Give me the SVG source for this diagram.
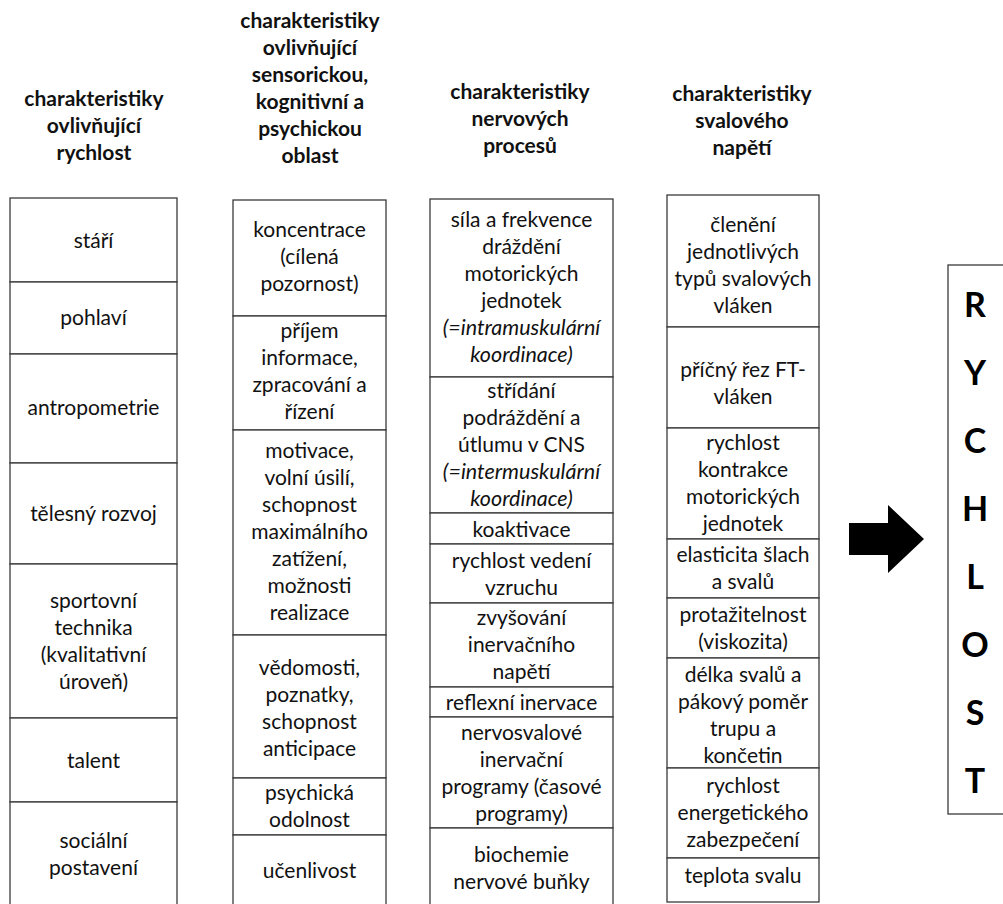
<svg xmlns="http://www.w3.org/2000/svg" width="1003" height="904" viewBox="0 0 1003 904">
  <style>
    .cell { fill: #ffffff; stroke: #3a3a3a; stroke-width: 1.3; }
    .t { font-family: Lato, "Liberation Sans", sans-serif; font-size: 21px; fill: #111111; text-anchor: middle; }
    .h { font-weight: bold; }
    .i { font-style: italic; font-size: 21.5px; }
    .big { font-family: Lato, "Liberation Sans", sans-serif; font-size: 34px; font-weight: bold; fill: #000000; text-anchor: middle; }
  </style>
  <rect width="1003" height="904" fill="#ffffff"/>

  <!-- column headings -->
  <g id="headings">
    <text class="t h"><tspan x="94" y="106">charakteristiky</tspan><tspan x="94" y="133">ovlivňující</tspan><tspan x="94" y="160">rychlost</tspan></text>
    <text class="t h"><tspan x="310" y="28">charakteristiky</tspan><tspan x="310" y="55">ovlivňující</tspan><tspan x="310" y="82">sensorickou,</tspan><tspan x="310" y="109">kognitivní a</tspan><tspan x="310" y="136">psychickou</tspan><tspan x="310" y="163">oblast</tspan></text>
    <text class="t h"><tspan x="520" y="99">charakteristiky</tspan><tspan x="520" y="126">nervových</tspan><tspan x="520" y="153">procesů</tspan></text>
    <text class="t h"><tspan x="742" y="101">charakteristiky</tspan><tspan x="742" y="128">svalového</tspan><tspan x="742" y="155">napětí</tspan></text>
  </g>

  <!-- column 1 -->
  <g id="c1-stari"><rect class="cell" x="10" y="198" width="167" height="84"/><text class="t" x="93.5" y="248">stáří</text></g>
  <g id="c1-pohlavi"><rect class="cell" x="10" y="282" width="167" height="72"/><text class="t" x="93.5" y="325">pohlaví</text></g>
  <g id="c1-antropometrie"><rect class="cell" x="10" y="354" width="167" height="109"/><text class="t" x="93.5" y="415">antropometrie</text></g>
  <g id="c1-rozvoj"><rect class="cell" x="10" y="463" width="167" height="101"/><text class="t" x="93.5" y="521">tělesný rozvoj</text></g>
  <g id="c1-technika"><rect class="cell" x="10" y="564" width="167" height="154"/><text class="t"><tspan x="93.5" y="608">sportovní</tspan><tspan x="93.5" y="635">technika</tspan><tspan x="93.5" y="662">(kvalitativní</tspan><tspan x="93.5" y="689">úroveň)</tspan></text></g>
  <g id="c1-talent"><rect class="cell" x="10" y="718" width="167" height="84"/><text class="t" x="93.5" y="768">talent</text></g>
  <g id="c1-postaveni"><rect class="cell" x="10" y="802" width="167" height="110"/><text class="t"><tspan x="93.5" y="848">sociální</tspan><tspan x="93.5" y="875">postavení</tspan></text></g>

  <!-- column 2 -->
  <g id="c2-koncentrace"><rect class="cell" x="233" y="200" width="153" height="116"/><text class="t"><tspan x="309.5" y="237">koncentrace</tspan><tspan x="309.5" y="264">(cílená</tspan><tspan x="309.5" y="291">pozornost)</tspan></text></g>
  <g id="c2-prijem"><rect class="cell" x="233" y="316" width="153" height="114"/><text class="t"><tspan x="309.5" y="338">příjem</tspan><tspan x="309.5" y="365">informace,</tspan><tspan x="309.5" y="392">zpracování a</tspan><tspan x="309.5" y="419">řízení</tspan></text></g>
  <g id="c2-motivace"><rect class="cell" x="233" y="430" width="153" height="205"/><text class="t"><tspan x="309.5" y="458">motivace,</tspan><tspan x="309.5" y="485">volní úsilí,</tspan><tspan x="309.5" y="512">schopnost</tspan><tspan x="309.5" y="539">maximálního</tspan><tspan x="309.5" y="566">zatížení,</tspan><tspan x="309.5" y="593">možnosti</tspan><tspan x="309.5" y="620">realizace</tspan></text></g>
  <g id="c2-vedomosti"><rect class="cell" x="233" y="635" width="153" height="143"/><text class="t"><tspan x="309.5" y="675">vědomosti,</tspan><tspan x="309.5" y="702">poznatky,</tspan><tspan x="309.5" y="729">schopnost</tspan><tspan x="309.5" y="756">anticipace</tspan></text></g>
  <g id="c2-odolnost"><rect class="cell" x="233" y="778" width="153" height="57"/><text class="t"><tspan x="309.5" y="800">psychická</tspan><tspan x="309.5" y="827">odolnost</tspan></text></g>
  <g id="c2-ucenlivost"><rect class="cell" x="233" y="835" width="153" height="77"/><text class="t" x="309.5" y="878">učenlivost</text></g>

  <!-- column 3 -->
  <g id="c3-sila"><rect class="cell" x="430" y="199" width="183" height="178"/><text class="t"><tspan x="521.5" y="227">síla a frekvence</tspan><tspan x="521.5" y="254">dráždění</tspan><tspan x="521.5" y="281">motorických</tspan><tspan x="521.5" y="308">jednotek</tspan><tspan class="i" x="521.5" y="335">(=intramuskulární</tspan><tspan class="i" x="521.5" y="362">koordinace)</tspan></text></g>
  <g id="c3-stridani"><rect class="cell" x="430" y="377" width="183" height="136"/><text class="t"><tspan x="521.5" y="398">střídání</tspan><tspan x="521.5" y="425">podráždění a</tspan><tspan x="521.5" y="452">útlumu v CNS</tspan><tspan class="i" x="521.5" y="479">(=intermuskulární</tspan><tspan class="i" x="521.5" y="506">koordinace)</tspan></text></g>
  <g id="c3-koaktivace"><rect class="cell" x="430" y="513" width="183" height="31"/><text class="t" x="521.5" y="537">koaktivace</text></g>
  <g id="c3-vedeni"><rect class="cell" x="430" y="544" width="183" height="59"/><text class="t"><tspan x="521.5" y="568">rychlost vedení</tspan><tspan x="521.5" y="595">vzruchu</tspan></text></g>
  <g id="c3-zvysovani"><rect class="cell" x="430" y="603" width="183" height="84"/><text class="t"><tspan x="521.5" y="625">zvyšování</tspan><tspan x="521.5" y="652">inervačního</tspan><tspan x="521.5" y="679">napětí</tspan></text></g>
  <g id="c3-reflexni"><rect class="cell" x="430" y="687" width="183" height="30"/><text class="t" x="521.5" y="710">reflexní inervace</text></g>
  <g id="c3-programy"><rect class="cell" x="430" y="717" width="183" height="111"/><text class="t"><tspan x="521.5" y="740">nervosvalové</tspan><tspan x="521.5" y="767">inervační</tspan><tspan x="521.5" y="794">programy (časové</tspan><tspan x="521.5" y="821">programy)</tspan></text></g>
  <g id="c3-biochemie"><rect class="cell" x="430" y="828" width="183" height="84"/><text class="t"><tspan x="521.5" y="862">biochemie</tspan><tspan x="521.5" y="889">nervové buňky</tspan></text></g>

  <!-- column 4 -->
  <g id="c4-cleneni"><rect class="cell" x="667" y="195" width="152" height="132"/><text class="t"><tspan x="743" y="232">členění</tspan><tspan x="743" y="259">jednotlivých</tspan><tspan x="743" y="286">typů svalových</tspan><tspan x="743" y="313">vláken</tspan></text></g>
  <g id="c4-rez"><rect class="cell" x="667" y="327" width="152" height="101"/><text class="t"><tspan x="743" y="377">příčný řez FT-</tspan><tspan x="743" y="404">vláken</tspan></text></g>
  <g id="c4-kontrakce"><rect class="cell" x="667" y="428" width="152" height="111"/><text class="t"><tspan x="743" y="450">rychlost</tspan><tspan x="743" y="477">kontrakce</tspan><tspan x="743" y="504">motorických</tspan><tspan x="743" y="531">jednotek</tspan></text></g>
  <g id="c4-elasticita"><rect class="cell" x="667" y="539" width="152" height="59"/><text class="t"><tspan x="743" y="562">elasticita šlach</tspan><tspan x="743" y="589">a svalů</tspan></text></g>
  <g id="c4-protazitelnost"><rect class="cell" x="667" y="598" width="152" height="60"/><text class="t"><tspan x="743" y="622">protažitelnost</tspan><tspan x="743" y="649">(viskozita)</tspan></text></g>
  <g id="c4-delka"><rect class="cell" x="667" y="658" width="152" height="110"/><text class="t"><tspan x="743" y="682">délka svalů a</tspan><tspan x="743" y="709">pákový poměr</tspan><tspan x="743" y="736">trupu a</tspan><tspan x="743" y="763">končetin</tspan></text></g>
  <g id="c4-energie"><rect class="cell" x="667" y="768" width="152" height="90"/><text class="t"><tspan x="743" y="793">rychlost</tspan><tspan x="743" y="820">energetického</tspan><tspan x="743" y="847">zabezpečení</tspan></text></g>
  <g id="c4-teplota"><rect class="cell" x="667" y="858" width="152" height="44"/><text class="t" x="743" y="883">teplota svalu</text></g>

  <!-- connector: block arrow to the result -->
  <g id="connectors">
    <polygon points="849,523 888,523 888,505 924,539 888,573 888,555 849,555" fill="#000000"/>
  </g>

  <!-- result box -->
  <g id="rychlost">
    <rect class="cell" x="948" y="265" width="70" height="549"/>
    <text class="big"><tspan x="975" y="317">R</tspan><tspan x="975" y="385">Y</tspan><tspan x="975" y="453">C</tspan><tspan x="975" y="521">H</tspan><tspan x="975" y="589">L</tspan><tspan x="975" y="657">O</tspan><tspan x="975" y="725">S</tspan><tspan x="975" y="793">T</tspan></text>
  </g>
</svg>
